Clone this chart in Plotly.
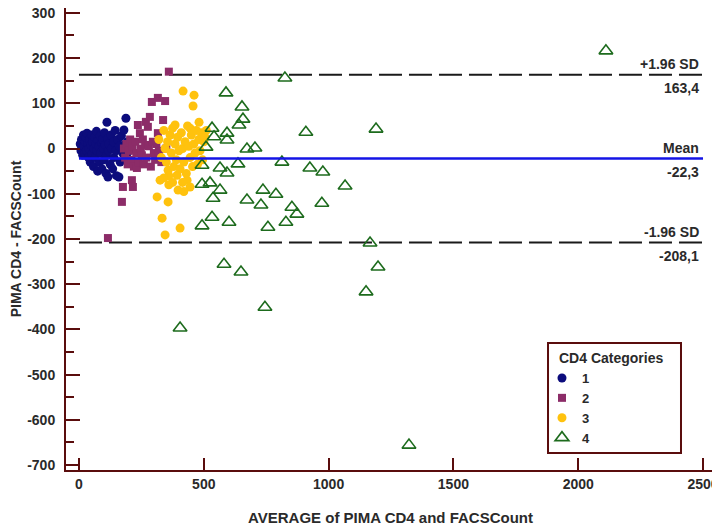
import plotly.graph_objects as go

# ---- data ----
cat1_x = [5, 8, 10, 12, 15, 18, 20, 22, 25, 28, 30, 32, 35, 38, 40, 42, 45, 48, 50, 52, 55, 58, 60, 62, 65, 68, 70, 72, 75, 76,
          80, 82, 85, 88, 90, 92, 95, 98, 100, 102, 105, 108, 110, 112, 115, 116, 118, 120, 125, 128, 130, 135, 138, 140, 145,
          148, 150, 155, 160, 162, 165, 170, 175, 180, 184, 188, 190, 195, 200]
cat1_y = [10, -5, 20, 0, -15, 30, 5, -10, 15, 25, -5, 34, 10, -20, 0, 20, -30, 8, 30, -12, 15, -40, 0, 25, -20, 10, 38, -5, -50, 18,
          5, -30, 28, -10, 12, -45, 20, 0, -25, 35, 8, -55, -15, 58, 22, -63, -5, 10, -35, 30, 0, -45, 15, -20, 40,
          -5, -60, 20, -63, 5, -30, 28, -10, 41, 10, 67, -15, 15, -5]

cat2_x = [116, 172, 176, 212, 216, 180, 185, 190, 195, 200, 205, 210, 215, 220, 225, 230, 232, 236, 240, 244, 248, 252, 256,
          260, 265, 268, 270, 276, 280, 284, 288, 292, 296, 300, 305, 310, 316, 316, 320, 330, 337, 345, 350, 360]
cat2_y = [-198, -118, -85, -70, -85, 0, -20, 10, -35, -5, 20, -25, 5, -40, 15, -10, -43, 52, -30, 34, 0, -15, 20,
          -35, 8, 59, -20, 48, 5, 70, -40, 103, 15, -10, -25, 10, 34, 112, -5, -30, 63, 105, 0, 170]

cat3_x = [313, 333, 345, 357, 357, 393, 405, 397, 433, 445, 417, 461, 457, 481, 385, 445, 497,
          320, 330, 340, 345, 350, 355, 360, 365, 370, 375, 380, 385, 390, 395, 400, 405, 410, 415, 420, 425,
          430, 435, 440, 445, 450, 455, 460, 465, 470, 475, 480, 485, 490, 495, 500, 505, 510,
          360, 375, 415, 325, 340, 420]
cat3_y = [-107, -154, -191, -118, -48, -59, -176, -92, -70, -85, 127, 118, 94, 58, 52, 45, 30,
          20, -20, 40, 0, -30, 15, -60, 30, -10, 45, -40, 10, -25, 25, -5, -45, 35, 0, -30, 15,
          -55, 50, 5, -20, 30, -40, 10, -10, 40, -35, 20, -5, 35, -25, 15, 25, 40,
          -80, -75, -75, -70, -65, -95]

cat4_x = [2111, 1190, 1166, 1198, 1066, 581, 649, 745, 1150, 1322, 405, 825, 653, 657, 641, 909, 673, 705, 637, 813,
          925, 977, 737, 789, 673, 729, 853, 873, 973, 829, 757, 589, 533, 541, 593, 593, 509, 493, 565, 593,
          493, 525, 565, 537, 533, 601, 493]
cat4_y = [216, 43, -209, -262, -83, -256, -273, -351, -317, -656, -397, 156, 92, 65, 52, 36, -1, 1, -34, -30,
          -43, -52, -92, -101, -114, -125, -130, -145, -121, -163, -174, 123, 45, 26, 34, 19, 3, -37, -43, -54,
          -79, -76, -92, -110, -152, -163, -171]

mean_diff = -22.3
upper_loa = 163.4
lower_loa = -208.1
line_x = [0, 2500]
category_names = ["1", "2", "3", "4"]
legend_title = "CD4 Categories"

x_ticks = [0, 500, 1000, 1500, 2000, 2500]
y_ticks = [300, 200, 100, 0, -100, -200, -300, -400, -500, -600, -700]

AXIS_COLOR = "#5a0d0d"
TXT = "#2a2a2a"
FONT = "Liberation Sans"

fig = go.Figure()

fig.add_trace(go.Scatter(x=line_x, y=[upper_loa, upper_loa], mode="lines", showlegend=False,
                         line=dict(color="#1a1a1a", width=2, dash="23px,7px"), hoverinfo="skip"))
fig.add_trace(go.Scatter(x=line_x, y=[lower_loa, lower_loa], mode="lines", showlegend=False,
                         line=dict(color="#1a1a1a", width=2, dash="23px,7px"), hoverinfo="skip"))

fig.add_trace(go.Scatter(x=cat1_x, y=cat1_y, mode="markers", name="<b>%s</b>" % category_names[0],
                         marker=dict(symbol="circle", size=9, color="#0c0c7c", line=dict(width=0))))
fig.add_trace(go.Scatter(x=cat2_x, y=cat2_y, mode="markers", name="<b>%s</b>" % category_names[1],
                         marker=dict(symbol="square", size=8, color="#8c2c68", line=dict(width=0))))
fig.add_trace(go.Scatter(x=cat3_x, y=cat3_y, mode="markers", name="<b>%s</b>" % category_names[2],
                         marker=dict(symbol="circle", size=9, color="#ffc20e", line=dict(width=0))))
fig.add_trace(go.Scatter(x=cat4_x, y=cat4_y, mode="markers", name="<b>%s</b>" % category_names[3],
                         marker=dict(symbol="triangle-up-open", size=12, color="#1d6b1d",
                                     line=dict(width=1.6, color="#1d6b1d"))))

fig.add_trace(go.Scatter(x=line_x, y=[mean_diff, mean_diff], mode="lines", showlegend=False,
                         line=dict(color="#1414e6", width=2.5), hoverinfo="skip"))

ann_font = dict(family=FONT, size=14, color=TXT)
for val, label, valtxt in [(upper_loa, "+1.96 SD", "163,4"), (mean_diff, "Mean", "-22,3"),
                           (lower_loa, "-1.96 SD", "-208,1")]:
    fig.add_annotation(x=2490, y=val, text="<b>%s</b>" % label, showarrow=False, xanchor="right",
                       yanchor="bottom", yshift=1, font=ann_font)
    fig.add_annotation(x=2490, y=val, text="<b>%s</b>" % valtxt, showarrow=False, xanchor="right",
                       yanchor="top", yshift=-3, font=ann_font)

# legend frame and title
fig.add_shape(type="rect", xref="paper", yref="paper", x0=0.7427, x1=0.9476, y0=0.0368, y1=0.2749,
              line=dict(color=AXIS_COLOR, width=2), fillcolor="white", layer="above")
fig.add_annotation(xref="paper", yref="paper", x=0.7565, y=0.2424, xanchor="left", yanchor="middle",
                   text="<b>%s</b>" % legend_title, showarrow=False, font=dict(family=FONT, size=14, color=TXT))

# page has an 8px body margin: figure is 712x518 so that it fits the 720x526 window
fig.update_layout(
    width=712, height=518,
    margin=dict(l=58, r=5, t=0, b=56),
    paper_bgcolor="white", plot_bgcolor="white",
    font=dict(family=FONT, size=14, color=TXT),
    legend=dict(
        font=dict(family=FONT, size=13, color=TXT),
        x=0.7334, y=0.2316, xanchor="left", yanchor="top",
        borderwidth=0, bgcolor="rgba(0,0,0,0)",
        itemwidth=30, tracegroupgap=0,
    ),
    xaxis=dict(
        range=[-52, 2548], tickvals=x_ticks, ticktext=["<b>%d</b>" % v for v in x_ticks],
        ticks="inside", ticklen=12, tickwidth=2, tickcolor=AXIS_COLOR,
        showline=True, linecolor=AXIS_COLOR, linewidth=2, mirror=False,
        showgrid=False, zeroline=False, automargin=False,
        tickfont=dict(family=FONT, size=14, color=TXT),
        title=dict(text="<b>AVERAGE of PIMA CD4 and FACSCount</b>", font=dict(family=FONT, size=15, color=TXT),
                   standoff=22),
    ),
    yaxis=dict(
        range=[-711, 310.8], tickvals=y_ticks, ticktext=["<b>%d</b>" % v for v in y_ticks],
        ticks="inside", ticklen=14, tickwidth=2, tickcolor=AXIS_COLOR,
        minor=dict(dtick=50, ticks="inside", ticklen=8, tickwidth=2, tickcolor=AXIS_COLOR, showgrid=False),
        showline=True, linecolor=AXIS_COLOR, linewidth=2, mirror=True,
        showgrid=False, zeroline=False, ticklabelstandoff=6, automargin=False,
        ticklabeloverflow="allow",
        tickfont=dict(family=FONT, size=14, color=TXT),
        title=dict(text="<b>PIMA CD4 - FACSCount</b>", font=dict(family=FONT, size=14, color=TXT), standoff=16),
    ),
)

fig.write_html("out.html")
